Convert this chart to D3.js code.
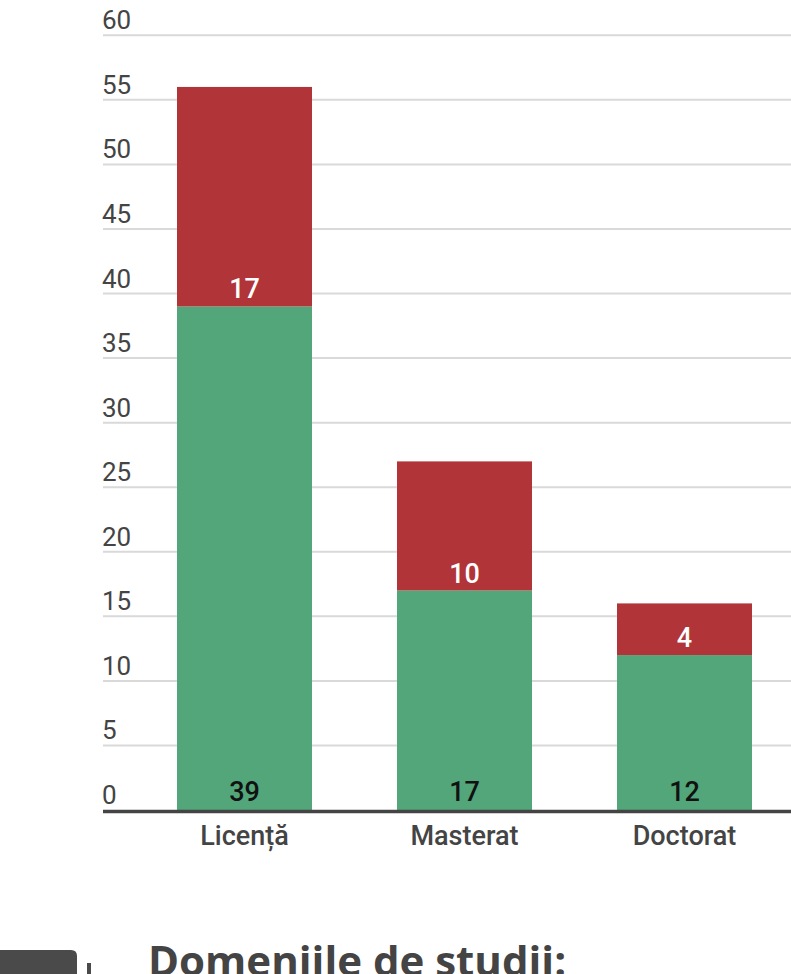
<!DOCTYPE html>
<html><head><meta charset="utf-8">
<script src="https://cdn.jsdelivr.net/npm/d3@7"></script>
<style>body{margin:0;background:#fff;}svg{display:block;}</style>
</head><body>
<svg id="c" width="791" height="974"></svg>
<script>
const categories = ["Licență", "Masterat", "Doctorat"];
const greenValues = [39, 17, 12];
const redValues = [17, 10, 4];
const yTicks = [0, 5, 10, 15, 20, 25, 30, 35, 40, 45, 50, 55, 60];
const title = "Domeniile de studii:";

const svg = d3.select("#c");
const y = d3.scaleLinear().domain([0, 60]).range([810, 35.3]);
const x = d3.scaleBand().domain(categories).range([134.5, 794.5]).paddingInner(0.3864).paddingOuter(0.1932);

// gridlines
svg.append("g").selectAll("line").data(yTicks.filter(d => d > 0)).join("line")
  .attr("x1", 103).attr("x2", 791)
  .attr("y1", d => y(d)).attr("y2", d => y(d))
  .attr("stroke", "#d9d9d9").attr("stroke-width", 2);

// tick labels
svg.append("g").selectAll("text").data(yTicks).join("text")
  .attr("x", 102).attr("y", d => y(d) - 6)
  .attr("font-family", "Roboto").attr("font-size", 26).attr("fill", "#444")
  .text(d => d);

const data = categories.map((c, i) => ({c, g: greenValues[i], r: redValues[i]}));

// bars
svg.append("g").selectAll("rect").data(data).join("rect")
  .attr("x", d => x(d.c)).attr("width", x.bandwidth())
  .attr("y", d => y(d.g)).attr("height", d => y(0) - y(d.g))
  .attr("fill", "#52a67a");
svg.append("g").selectAll("rect").data(data).join("rect")
  .attr("x", d => x(d.c)).attr("width", x.bandwidth())
  .attr("y", d => y(d.g + d.r)).attr("height", d => y(d.g) - y(d.g + d.r))
  .attr("fill", "#b03438");

// value labels
svg.append("g").selectAll("text").data(data).join("text")
  .attr("x", d => x(d.c) + x.bandwidth() / 2).attr("y", d => y(d.g) - 8)
  .attr("text-anchor", "middle").attr("font-family", "Roboto").attr("font-weight", 500)
  .attr("font-size", 27).attr("fill", "#fff").text(d => d.r);
svg.append("g").selectAll("text").data(data).join("text")
  .attr("x", d => x(d.c) + x.bandwidth() / 2).attr("y", y(0) - 9)
  .attr("text-anchor", "middle").attr("font-family", "Roboto").attr("font-weight", 500)
  .attr("font-size", 27).attr("fill", "#111").text(d => d.g);

// axis line
svg.append("line").attr("x1", 103).attr("x2", 791).attr("y1", y(0) + 1.5).attr("y2", y(0) + 1.5)
  .attr("stroke", "#444").attr("stroke-width", 3.5);

// category labels
svg.append("g").selectAll("text").data(categories).join("text")
  .attr("x", d => x(d) + x.bandwidth() / 2).attr("y", 845)
  .attr("text-anchor", "middle").attr("font-family", "Roboto").attr("font-weight", 500)
  .attr("font-size", 27).attr("fill", "#444").text(d => d);

// bottom decoration & title
svg.append("path").attr("d", "M0,950 H71 Q77,950 77,956 V974 H0 Z").attr("fill", "#4a4a4a");
svg.append("rect").attr("x", 87).attr("y", 963).attr("width", 4).attr("height", 11).attr("fill", "#4a4a4a");
svg.append("text").attr("x", 148).attr("y", 976)
  .attr("font-family", "Open Sans").attr("font-weight", 700).attr("font-size", 42)
  .attr("fill", "#444").text(title);
</script>
</body></html>
